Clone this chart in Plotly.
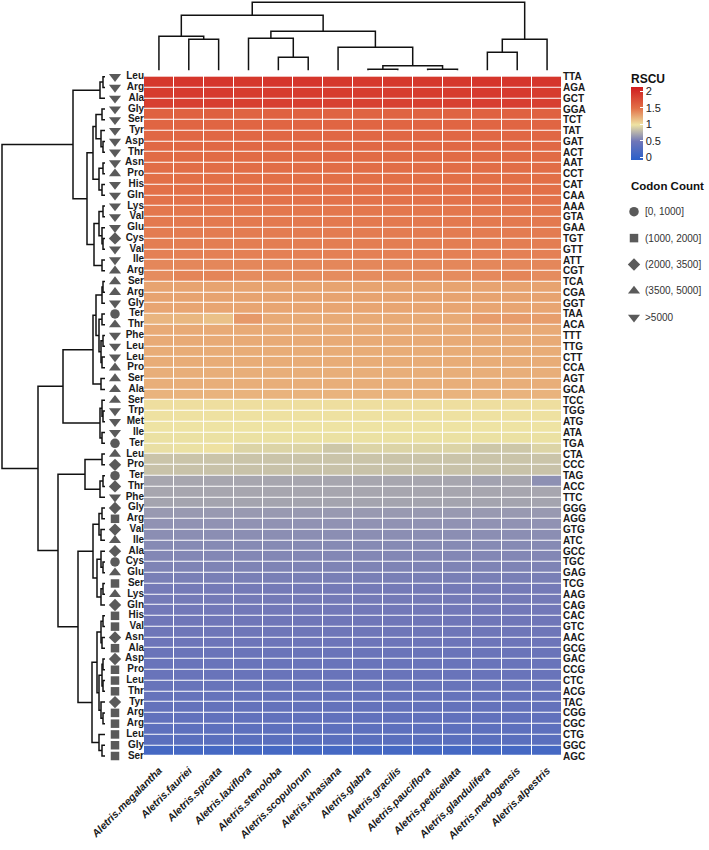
import plotly.graph_objects as go

# ---------------- data ----------------
SPECIES = ["Aletris.megalantha", "Aletris.fauriei", "Aletris.spicata", "Aletris.laxiflora",
           "Aletris.stenoloba", "Aletris.scopulorum", "Aletris.khasiana", "Aletris.glabra",
           "Aletris.gracilis", "Aletris.pauciflora", "Aletris.pedicellata", "Aletris.glandulifera",
           "Aletris.medogensis", "Aletris.alpestris"]

CODONS = ["TTA", "AGA", "GCT", "GGA", "TCT", "TAT", "GAT", "ACT", "AAT", "CCT", "CAT", "CAA",
          "AAA", "GTA", "GAA", "TGT", "GTT", "ATT", "CGT", "TCA", "CGA", "GGT", "TAA", "ACA",
          "TTT", "TTG", "CTT", "CCA", "AGT", "GCA", "TCC", "TGG", "ATG", "ATA", "TGA", "CTA",
          "CCC", "TAG", "ACC", "TTC", "GGG", "AGG", "GTG", "ATC", "GCC", "TGC", "GAG", "TCG",
          "AAG", "CAG", "CAC", "GTC", "AAC", "GCG", "GAC", "CCG", "CTC", "ACG", "TAC", "CGG",
          "CGC", "CTG", "GGC", "AGC"]

AMINO = ["Leu", "Arg", "Ala", "Gly", "Ser", "Tyr", "Asp", "Thr", "Asn", "Pro", "His", "Gln",
         "Lys", "Val", "Glu", "Cys", "Val", "Ile", "Arg", "Ser", "Arg", "Gly", "Ter", "Thr",
         "Phe", "Leu", "Leu", "Pro", "Ser", "Ala", "Ser", "Trp", "Met", "Ile", "Ter", "Leu",
         "Pro", "Ter", "Thr", "Phe", "Gly", "Arg", "Val", "Ile", "Ala", "Cys", "Glu", "Ser",
         "Lys", "Gln", "His", "Val", "Asn", "Ala", "Asp", "Pro", "Leu", "Thr", "Tyr", "Arg",
         "Arg", "Leu", "Gly", "Ser"]

COUNT_LABELS = ["[0, 1000]", "(1000, 2000]", "(2000, 3500]", "(3500, 5000]", ">5000"]
COUNT_SYMBOLS = ["circle", "square", "diamond", "triangle-up", "triangle-down"]
COUNT_SIZES = [9.5, 8.5, 9.5, 10.5, 10.5]
# codon-count class of each row (index into COUNT_LABELS)
COUNT_CLASS = [4, 4, 4, 4, 4, 4, 4, 4, 4, 3, 4, 4,
               4, 4, 4, 2, 4, 4, 3, 3, 3, 4, 0, 3,
               4, 4, 4, 3, 3, 3, 3, 4, 4, 4, 0, 3,
               2, 0, 2, 4, 2, 1, 2, 3, 2, 0, 3, 1,
               3, 2, 1, 1, 2, 1, 2, 1, 1, 1, 2, 1,
               1, 1, 1, 1]

RSCU = [
    [1.93, 1.94, 1.94, 1.93, 1.94, 1.94, 1.93, 1.92, 1.93, 1.93, 1.93, 1.95, 1.94, 1.94],
    [1.90, 1.91, 1.91, 1.90, 1.90, 1.90, 1.90, 1.89, 1.89, 1.90, 1.90, 1.91, 1.91, 1.90],
    [1.87, 1.87, 1.88, 1.87, 1.87, 1.87, 1.86, 1.86, 1.86, 1.86, 1.86, 1.88, 1.88, 1.87],
    [1.61, 1.61, 1.62, 1.60, 1.61, 1.61, 1.60, 1.60, 1.60, 1.60, 1.60, 1.61, 1.61, 1.61],
    [1.58, 1.58, 1.58, 1.58, 1.58, 1.58, 1.58, 1.58, 1.58, 1.58, 1.58, 1.58, 1.58, 1.58],
    [1.57, 1.57, 1.57, 1.57, 1.57, 1.57, 1.57, 1.57, 1.57, 1.57, 1.57, 1.57, 1.57, 1.57],
    [1.56, 1.56, 1.56, 1.56, 1.56, 1.56, 1.56, 1.56, 1.56, 1.56, 1.56, 1.56, 1.56, 1.56],
    [1.54, 1.54, 1.54, 1.54, 1.54, 1.54, 1.55, 1.54, 1.54, 1.54, 1.54, 1.54, 1.54, 1.54],
    [1.52, 1.52, 1.52, 1.52, 1.52, 1.52, 1.52, 1.52, 1.52, 1.52, 1.52, 1.52, 1.52, 1.52],
    [1.51, 1.51, 1.51, 1.51, 1.51, 1.51, 1.51, 1.51, 1.51, 1.51, 1.51, 1.51, 1.51, 1.51],
    [1.50, 1.50, 1.50, 1.50, 1.50, 1.50, 1.50, 1.50, 1.50, 1.50, 1.50, 1.50, 1.50, 1.50],
    [1.49, 1.49, 1.49, 1.49, 1.49, 1.49, 1.49, 1.49, 1.49, 1.49, 1.49, 1.49, 1.49, 1.49],
    [1.47, 1.47, 1.47, 1.47, 1.47, 1.47, 1.47, 1.47, 1.47, 1.47, 1.47, 1.47, 1.47, 1.47],
    [1.46, 1.46, 1.46, 1.46, 1.46, 1.46, 1.46, 1.46, 1.46, 1.46, 1.46, 1.46, 1.46, 1.46],
    [1.45, 1.45, 1.45, 1.45, 1.45, 1.45, 1.45, 1.45, 1.45, 1.45, 1.45, 1.45, 1.45, 1.45],
    [1.44, 1.44, 1.44, 1.44, 1.44, 1.44, 1.44, 1.44, 1.44, 1.44, 1.44, 1.44, 1.44, 1.44],
    [1.43, 1.43, 1.43, 1.43, 1.43, 1.43, 1.43, 1.43, 1.43, 1.43, 1.43, 1.43, 1.43, 1.43],
    [1.40, 1.40, 1.40, 1.40, 1.40, 1.40, 1.40, 1.40, 1.40, 1.40, 1.40, 1.40, 1.40, 1.40],
    [1.38, 1.41, 1.41, 1.38, 1.38, 1.38, 1.38, 1.38, 1.38, 1.38, 1.38, 1.39, 1.41, 1.38],
    [1.28, 1.28, 1.28, 1.28, 1.28, 1.28, 1.28, 1.28, 1.28, 1.28, 1.28, 1.28, 1.28, 1.28],
    [1.28, 1.28, 1.28, 1.28, 1.28, 1.28, 1.28, 1.28, 1.28, 1.28, 1.28, 1.28, 1.28, 1.28],
    [1.27, 1.27, 1.27, 1.27, 1.27, 1.27, 1.27, 1.27, 1.27, 1.27, 1.27, 1.27, 1.27, 1.27],
    [1.20, 1.19, 1.15, 1.32, 1.25, 1.25, 1.25, 1.25, 1.25, 1.25, 1.25, 1.31, 1.31, 1.30],
    [1.25, 1.25, 1.25, 1.25, 1.25, 1.25, 1.25, 1.25, 1.25, 1.25, 1.25, 1.25, 1.25, 1.25],
    [1.25, 1.25, 1.25, 1.25, 1.25, 1.25, 1.25, 1.25, 1.25, 1.25, 1.25, 1.25, 1.25, 1.25],
    [1.24, 1.24, 1.24, 1.24, 1.24, 1.24, 1.24, 1.24, 1.24, 1.24, 1.24, 1.24, 1.24, 1.24],
    [1.24, 1.24, 1.24, 1.24, 1.24, 1.24, 1.24, 1.24, 1.24, 1.24, 1.24, 1.24, 1.24, 1.24],
    [1.23, 1.23, 1.23, 1.23, 1.23, 1.23, 1.23, 1.23, 1.23, 1.23, 1.23, 1.23, 1.23, 1.23],
    [1.23, 1.23, 1.23, 1.23, 1.23, 1.23, 1.23, 1.23, 1.23, 1.23, 1.23, 1.23, 1.23, 1.23],
    [1.21, 1.21, 1.21, 1.21, 1.21, 1.21, 1.21, 1.21, 1.21, 1.21, 1.21, 1.21, 1.21, 1.21],
    [1.02, 1.02, 1.02, 1.02, 1.02, 1.02, 1.02, 1.02, 1.02, 1.02, 1.02, 1.02, 1.02, 1.02],
    [1.01, 1.01, 1.01, 1.01, 1.01, 1.01, 1.01, 1.01, 1.01, 1.01, 1.01, 1.01, 1.01, 1.01],
    [1.00, 1.00, 1.00, 1.00, 1.00, 1.00, 1.00, 1.00, 1.00, 1.00, 1.00, 1.00, 1.00, 1.00],
    [0.99, 0.99, 0.99, 0.99, 0.99, 0.99, 0.99, 0.99, 0.99, 0.99, 0.99, 0.99, 0.99, 0.99],
    [0.98, 0.99, 1.01, 0.93, 0.93, 0.93, 0.87, 0.93, 0.93, 0.93, 0.93, 0.87, 0.87, 0.93],
    [0.86, 0.86, 0.86, 0.86, 0.86, 0.86, 0.86, 0.86, 0.86, 0.86, 0.86, 0.86, 0.86, 0.86],
    [0.85, 0.85, 0.85, 0.85, 0.85, 0.85, 0.85, 0.85, 0.85, 0.85, 0.85, 0.85, 0.85, 0.85],
    [0.72, 0.72, 0.72, 0.72, 0.72, 0.72, 0.72, 0.72, 0.72, 0.72, 0.72, 0.70, 0.72, 0.62],
    [0.72, 0.72, 0.72, 0.72, 0.72, 0.72, 0.72, 0.72, 0.72, 0.72, 0.72, 0.72, 0.72, 0.72],
    [0.71, 0.71, 0.71, 0.71, 0.71, 0.71, 0.71, 0.71, 0.71, 0.71, 0.71, 0.71, 0.71, 0.71],
    [0.66, 0.66, 0.66, 0.66, 0.66, 0.66, 0.66, 0.66, 0.66, 0.66, 0.66, 0.66, 0.66, 0.66],
    [0.63, 0.63, 0.63, 0.63, 0.63, 0.63, 0.63, 0.63, 0.63, 0.63, 0.63, 0.63, 0.63, 0.63],
    [0.61, 0.61, 0.61, 0.61, 0.61, 0.61, 0.61, 0.61, 0.61, 0.61, 0.61, 0.61, 0.61, 0.61],
    [0.59, 0.59, 0.59, 0.59, 0.59, 0.59, 0.59, 0.59, 0.59, 0.59, 0.59, 0.59, 0.59, 0.59],
    [0.58, 0.58, 0.58, 0.58, 0.58, 0.58, 0.58, 0.58, 0.58, 0.58, 0.58, 0.58, 0.58, 0.58],
    [0.56, 0.56, 0.56, 0.56, 0.56, 0.56, 0.56, 0.56, 0.56, 0.56, 0.56, 0.56, 0.56, 0.56],
    [0.54, 0.54, 0.54, 0.54, 0.54, 0.54, 0.54, 0.54, 0.54, 0.54, 0.54, 0.54, 0.54, 0.54],
    [0.52, 0.52, 0.52, 0.52, 0.52, 0.52, 0.52, 0.52, 0.52, 0.52, 0.52, 0.52, 0.52, 0.52],
    [0.52, 0.52, 0.52, 0.52, 0.52, 0.52, 0.52, 0.52, 0.52, 0.52, 0.52, 0.52, 0.52, 0.52],
    [0.51, 0.51, 0.51, 0.51, 0.51, 0.51, 0.51, 0.51, 0.51, 0.51, 0.51, 0.51, 0.51, 0.51],
    [0.50, 0.50, 0.50, 0.50, 0.50, 0.50, 0.50, 0.50, 0.50, 0.50, 0.50, 0.50, 0.50, 0.50],
    [0.49, 0.49, 0.49, 0.49, 0.49, 0.49, 0.49, 0.49, 0.49, 0.49, 0.49, 0.49, 0.49, 0.49],
    [0.48, 0.48, 0.48, 0.48, 0.48, 0.48, 0.48, 0.48, 0.48, 0.48, 0.48, 0.48, 0.48, 0.48],
    [0.46, 0.46, 0.46, 0.46, 0.46, 0.46, 0.46, 0.46, 0.46, 0.46, 0.46, 0.46, 0.46, 0.46],
    [0.45, 0.45, 0.45, 0.45, 0.45, 0.45, 0.45, 0.45, 0.45, 0.45, 0.45, 0.45, 0.45, 0.45],
    [0.45, 0.45, 0.45, 0.45, 0.45, 0.45, 0.45, 0.45, 0.45, 0.45, 0.45, 0.45, 0.45, 0.45],
    [0.44, 0.44, 0.44, 0.44, 0.44, 0.44, 0.44, 0.44, 0.44, 0.44, 0.44, 0.44, 0.44, 0.44],
    [0.42, 0.42, 0.42, 0.42, 0.42, 0.42, 0.42, 0.42, 0.42, 0.42, 0.42, 0.42, 0.42, 0.42],
    [0.40, 0.40, 0.40, 0.40, 0.40, 0.40, 0.40, 0.40, 0.40, 0.40, 0.40, 0.40, 0.40, 0.40],
    [0.39, 0.39, 0.39, 0.39, 0.39, 0.39, 0.39, 0.39, 0.39, 0.39, 0.39, 0.39, 0.39, 0.39],
    [0.35, 0.35, 0.35, 0.35, 0.35, 0.35, 0.35, 0.35, 0.35, 0.35, 0.35, 0.35, 0.35, 0.35],
    [0.33, 0.33, 0.33, 0.33, 0.33, 0.33, 0.33, 0.33, 0.33, 0.33, 0.33, 0.33, 0.33, 0.33],
    [0.16, 0.16, 0.16, 0.16, 0.16, 0.16, 0.16, 0.16, 0.16, 0.16, 0.16, 0.16, 0.16, 0.16],
]

# dendrograms: [merge height, left, right]; leaves are row / column indices
ROW_TREE = [103,
            [32, [5, [2, 0, 1], 2],
                 [18, [12, [9, [3, 3, 4], [4, 5, [2, 6, 7]]], [6, [2, 8, 9], [3, 10, 11]]],
                      [11, [6, [2, 12, 13], [3, 14, [2, 15, 16]]], [3, 17, 18]]]],
            [67, [42, [12, [9, [3, [2, 19, 20], 21], [6, [3, 22, 23], [4, [2, 24, 25], [3, 26, 27]]]],
                           [4, 28, 29]],
                      [5, [3, 30, [2, 31, 32]], [3, 33, 34]]],
                 [47, [20, [3, 35, 36], [5, [2, 37, 38], 39]],
                      [27, [12, [6, [3, 40, 41], [4, 42, 43]], [8, [4, 44, [2, 45, 46]], [4, [2, 47, 48], 49]]],
                           [13, [8, [4, [2, 50, 51], [3, 52, 53]],
                                    [6, [3, [2, 54, 55], [2, 56, 57]], [4, 58, [2, 59, 60]]]],
                                [6, 61, [3, 62, 63]]]]]]]

COL_TREE = [68,
            [55, [34, 0, [31, 1, 2]],
                 [39, [32, 3, [13, 4, 5]], [23, 6, [4.5, [1, 7, 8], [1, 9, 10]]]]],
            [31, [18, 11, 12], 13]]

# ---------------- helpers ----------------
ZMIN, ZMAX = -0.06, 2.14
COLOR_STOPS = [(-0.06, "#2a5fca"), (0.5, "#6f76b8"), (1.0, "#eee3a3"), (1.5, "#e27048"), (2.14, "#cf1c1f")]
colorscale = [[(v - ZMIN) / (ZMAX - ZMIN), c] for v, c in COLOR_STOPS]


def walk(node, hs, ps):
    if not isinstance(node, list):
        return float(node), 0.0
    h, left, right = node
    pl, hl = walk(left, hs, ps)
    pr, hr = walk(right, hs, ps)
    hs += [hl, h, h, hr, None]
    ps += [pl, pl, pr, pr, None]
    return (pl + pr) / 2.0, h


W, H = 709, 850
HM_L, HM_R, HM_T, HM_B = 144, 562, 71.3, 761.4

fig = go.Figure()

fig.add_trace(go.Heatmap(
    z=RSCU, x=list(range(len(SPECIES))), y=list(range(len(CODONS))),
    colorscale=colorscale, zmin=ZMIN, zmax=ZMAX, xgap=1, ygap=1,
    hoverinfo="skip",
    colorbar=dict(x=631 / W, xanchor="left", xpad=0, thickness=12,
                  lenmode="pixels", len=72.6, y=1 - 123 / H, yanchor="middle", ypad=0,
                  outlinewidth=0, tickvals=[0, 0.5, 1, 1.5, 2], ticktext=["0", "0.5", "1", "1.5", "2"],
                  ticks="inside", tickcolor="white", ticklen=3, tickwidth=1,
                  tickfont=dict(size=11, color="#222")),
))

# row dendrogram
rh, rp = [], []
walk(ROW_TREE, rh, rp)
fig.add_trace(go.Scatter(x=rh, y=rp, mode="lines", line=dict(color="#111", width=1.5),
                         xaxis="x2", yaxis="y", hoverinfo="skip", showlegend=False))
# column dendrogram
ch, cp = [], []
walk(COL_TREE, ch, cp)
fig.add_trace(go.Scatter(x=cp, y=ch, mode="lines", line=dict(color="#111", width=1.5),
                         xaxis="x", yaxis="y2", hoverinfo="skip", showlegend=False))

# codon-count shapes next to rows
for k, lab in enumerate(COUNT_LABELS):
    rows = [i for i, c in enumerate(COUNT_CLASS) if c == k]
    fig.add_trace(go.Scatter(x=[115] * len(rows), y=rows, mode="markers",
                             marker=dict(symbol=COUNT_SYMBOLS[k], size=COUNT_SIZES[k], color="#5a5a5a"),
                             xaxis="x3", yaxis="y", hoverinfo="skip", showlegend=False, cliponaxis=False))
# amino-acid labels
fig.add_trace(go.Scatter(x=[144] * len(AMINO), y=list(range(len(AMINO))), mode="text", text=AMINO,
                         textposition="middle left",
                         textfont=dict(size=10, color="#1a1a1a", weight="bold", family="Liberation Sans"),
                         xaxis="x3", yaxis="y", hoverinfo="skip", showlegend=False, cliponaxis=False))

# manual codon-count legend
LEG_Y0, LEG_STEP = 211.7, 26.4
for k, lab in enumerate(COUNT_LABELS):
    fig.add_trace(go.Scatter(x=[634], y=[LEG_Y0 + k * LEG_STEP], mode="markers",
                             marker=dict(symbol=COUNT_SYMBOLS[k], size=COUNT_SIZES[k], color="#5a5a5a"),
                             xaxis="x4", yaxis="y4", hoverinfo="skip", showlegend=False, cliponaxis=False))

annotations = [
    dict(x=629, y=79, xref="x4", yref="y4", text="<b>RSCU</b>", showarrow=False,
         xanchor="left", yanchor="middle", font=dict(size=12, color="#111")),
    dict(x=629, y=186, xref="x4", yref="y4", text="<b>Codon Count</b>", showarrow=False,
         xanchor="left", yanchor="middle", font=dict(size=11.5, color="#111")),
]
for k, lab in enumerate(COUNT_LABELS):
    annotations.append(dict(x=643, y=LEG_Y0 + k * LEG_STEP, xref="x4", yref="y4", text=lab,
                            showarrow=False, xanchor="left", yanchor="middle",
                            font=dict(size=10, color="#333")))

hidden = dict(visible=False, showgrid=False, zeroline=False, fixedrange=True, automargin=False)

fig.update_layout(
    width=W, height=H, margin=dict(l=0, r=0, t=0, b=0, autoexpand=False),
    paper_bgcolor="white", plot_bgcolor="white", showlegend=False,
    font=dict(family="Liberation Sans, Arial, sans-serif", color="#111"),
    xaxis=dict(domain=[HM_L / W, HM_R / W], range=[-0.5, len(SPECIES) - 0.5],
               tickvals=list(range(len(SPECIES))), ticktext=SPECIES, tickangle=-45,
               tickfont=dict(size=10.5, weight="bold", style="italic", color="#1a1a1a"),
               showgrid=False, zeroline=False, showline=False, ticks="", anchor="y", automargin=False),
    yaxis=dict(domain=[1 - HM_B / H, 1 - HM_T / H], range=[len(CODONS) - 0.5, -0.5],
               tickvals=list(range(len(CODONS))), ticktext=CODONS, side="right",
               tickfont=dict(size=10, weight="bold", color="#1a1a1a"),
               showgrid=False, zeroline=False, showline=False, ticks="", anchor="x", automargin=False),
    xaxis2=dict(domain=[0, 105 / W], range=[105, 0], anchor="y", **hidden),
    yaxis2=dict(domain=[1 - HM_T / H, 1], range=[-1, 70.3], anchor="x", **hidden),
    xaxis3=dict(domain=[105 / W, HM_L / W], range=[105, HM_L], anchor="y", **hidden),
    xaxis4=dict(domain=[600 / W, 1], range=[600, W], anchor="y4", **hidden),
    yaxis4=dict(domain=[0, 1], range=[H, 0], anchor="x4", **hidden),
    annotations=annotations,
)

fig.write_html("out.html")
